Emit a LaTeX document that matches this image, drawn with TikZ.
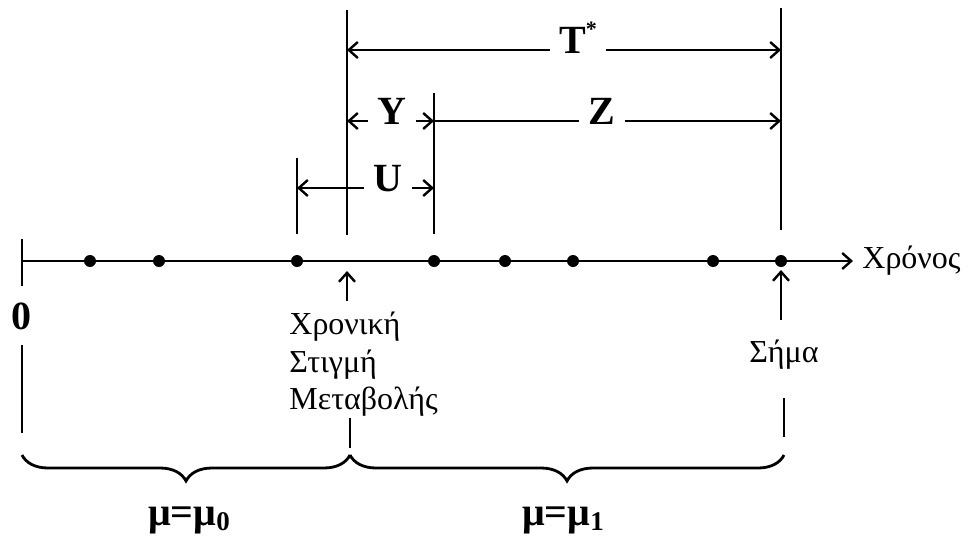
\documentclass[tikz,border=0pt]{standalone}
\usepackage{fontspec}
\setmainfont{Liberation Serif}
\usetikzlibrary{arrows.meta,decorations.pathreplacing}
\newcommand{\lowsub}[1]{\raisebox{-0.14em}{\fontsize{27}{27}\selectfont #1}}
\begin{document}
\begin{tikzpicture}[x=1pt,y=-1pt, line width=2.8pt,
  tip/.style={-{Straight Barb[length=9pt,width=16pt,line width=2.4pt]}},
  dot/.style={circle,fill,inner sep=0pt,minimum size=12pt},
  blab/.style={font=\fontsize{40}{42}\selectfont\bfseries, inner xsep=8pt, inner ysep=0pt, text height=0.66em, text depth=0pt},
  mlab/.style={font=\fontsize{40}{42}\selectfont\bfseries, inner sep=0pt},
  rlab/.style={font=\fontsize{32}{37.5}\selectfont, inner sep=0pt},
  brc/.style={decorate, decoration={brace, amplitude=26pt, aspect=0.5}},
  ]
\useasboundingbox (0,0) rectangle (965,538);
% time axis
\coordinate (t0) at (22,261);
\coordinate (tend) at (853,261);
\coordinate (tk1) at (22,239);
\coordinate (tk2) at (22,286);
\draw[tip] (t0) -- (tend);
\draw (tk1) -- (tk2);
\foreach \i/\x in {1/90,2/159,3/297,4/434,5/505,6/573,7/713,8/781}
  \node[dot] (d\i) at (\x,261) {};
\node[rlab, anchor=base west] (chronos) at (861,268) {Χρόνος};
\node[mlab, anchor=base] (zero) at (21,329) {0};
% vertical marks
\coordinate (vU) at (297,158);  \coordinate (vUb) at (297,234);
\coordinate (vT) at (347,10);   \coordinate (vTb) at (347,235);
\coordinate (vZ) at (434,93);   \coordinate (vZb) at (434,234);
\coordinate (vS) at (781,8);    \coordinate (vSb) at (781,230);
\draw (vU) -- (vUb);
\draw (vT) -- (vTb);
\draw (vZ) -- (vZb);
\draw (vS) -- (vSb);
% labels of intervals
\node[blab] (Tlab) at (578,50) {T\raisebox{0.42em}{\fontsize{22}{22}\selectfont *}};
\node[blab] (Ylab) at (392,121) {Y};
\node[blab] (Zlab) at (602,121) {Z};
\node[blab] (Ulab) at (388,188) {U};
\draw[tip] (Tlab.west) -- (Tlab.west -| vT);
\draw[tip] (Tlab.east) -- (Tlab.east -| vS);
\draw[tip] (Ylab.west) -- (Ylab.west -| vT);
\draw[tip] (Ylab.east) -- (Ylab.east -| vZ);
\draw (Zlab.west -| vZ) -- (Zlab.west);
\draw[tip] (Zlab.east) -- (Zlab.east -| vS);
\draw[tip] (Ulab.west) -- (Ulab.west -| vU);
\draw[tip] (Ulab.east) -- (Ulab.east -| vZ);
% up arrows and their texts
\coordinate (ua1) at (347,301); \coordinate (ua1t) at (347,271);
\coordinate (ua2) at (781,320); \coordinate (ua2t) at (781,270);
\draw[tip] (ua1) -- (ua1t);
\draw[tip] (ua2) -- (ua2t);
\node[rlab, anchor=base west] (c1) at (288,334) {Χρονική};
\node[rlab, anchor=base west] (c2) at (288,372) {Στιγμή};
\node[rlab, anchor=base west] (c3) at (288,409) {Μεταβολής};
\node[rlab, anchor=base] (sima) at (784,362) {Σήμα};
% lower marks
\coordinate (l1) at (22,345);  \coordinate (l1b) at (22,433);
\coordinate (l2) at (350,418); \coordinate (l2b) at (350,448);
\coordinate (l3) at (784,398); \coordinate (l3b) at (784,437);
\draw (l1) -- (l1b);
\draw (l2) -- (l2b);
\draw (l3) -- (l3b);
% braces
\coordinate (b1) at (22,455);
\coordinate (b2) at (350,455);
\coordinate (b3) at (784,455);
\draw[brc] (b2) -- (b1);
\draw[brc] (b3) -- (b2);
\node[mlab, anchor=base] (mu0) at (189,525) {μ=μ\lowsub{0}};
\node[mlab, anchor=base] (mu1) at (563,525) {μ=μ\lowsub{1}};
\end{tikzpicture}
\end{document}
